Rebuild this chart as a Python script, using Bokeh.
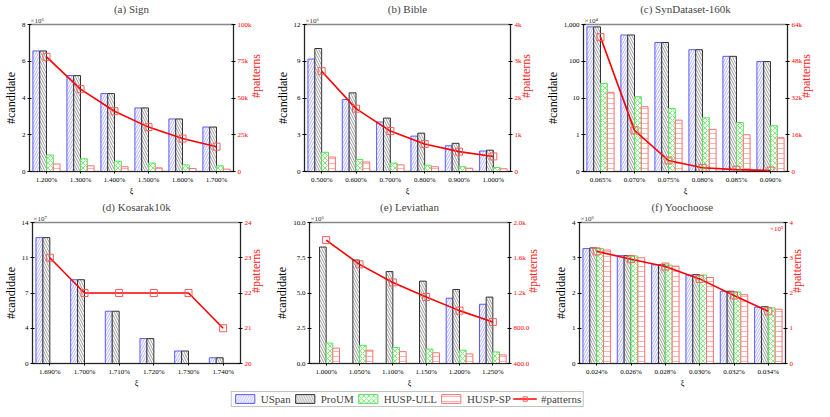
import math
from bokeh.plotting import figure
from bokeh.models import (Range1d, LinearAxis, FixedTicker, Label, Legend, LegendItem,
                          LinearScale, ColumnDataSource, Title)
from bokeh.layouts import column, row
from bokeh.transform import dodge
from bokeh.embed import file_html
from bokeh.resources import INLINE

nan = float("nan")

# ---------------- data ----------------
series_names = ["USpan", "ProUM", "HUSP-ULL", "HUSP-SP", "#patterns"]

# (a) Sign  (#candidate x10^6)
labels_a = ["1.200%", "1.300%", "1.400%", "1.500%", "1.600%", "1.700%"]
uspan_a = [6.56, 5.22, 4.24, 3.46, 2.86, 2.42]
proum_a = [6.56, 5.22, 4.24, 3.46, 2.86, 2.42]
ull_a = [0.90, 0.69, 0.56, 0.46, 0.36, 0.31]
sp_a = [0.41, 0.31, 0.26, 0.20, 0.16, 0.13]
pat_a = [78000, 56000, 41000, 30200, 22400, 16900]

# (b) Bible  (#candidate x10^6)
labels_b = ["0.500%", "0.600%", "0.700%", "0.800%", "0.900%", "1.000%"]
uspan_b = [9.18, 5.88, 4.04, 2.89, 2.10, 1.67]
proum_b = [10.04, 6.42, 4.36, 3.13, 2.30, 1.74]
ull_b = [1.57, 0.98, 0.69, 0.51, 0.39, 0.32]
sp_b = [1.18, 0.78, 0.54, 0.39, 0.27, 0.22]
pat_b = [2730, 1710, 1100, 750, 540, 410]

# (c) SynDataset-160k  (#candidate x10^4, log scale)
labels_c = ["0.065%", "0.070%", "0.075%", "0.080%", "0.085%", "0.090%"]
uspan_c = [861, 518, 324, 206, 136, 98]
proum_c = [861, 518, 324, 206, 136, 98]
ull_c = [25.0, 10.8, 5.2, 2.9, 2.16, 1.76]
sp_c = [14.3, 5.8, 2.5, 1.4, 1.0, 0.83]
pat_c = [58500, 17900, 4800, 1600, 800, 400]

# (d) Kosarak10k  (#candidate x10^7)
labels_d = ["1.690%", "1.700%", "1.710%", "1.720%", "1.730%", "1.740%"]
uspan_d = [12.5, 8.32, 5.19, 2.47, 1.24, 0.57]
proum_d = [12.5, 8.32, 5.19, 2.47, 1.24, 0.57]
ull_d = [nan, nan, nan, nan, nan, nan]
sp_d = [nan, nan, nan, nan, nan, nan]
pat_d = [23, 22, 22, 22, 22, 21]

# (e) Leviathan  (#candidate x10^6)
labels_e = ["1.000%", "1.050%", "1.100%", "1.150%", "1.200%", "1.250%"]
uspan_e = [nan, nan, nan, nan, 4.63, 4.20]
proum_e = [8.26, 7.34, 6.52, 5.84, 5.25, 4.71]
ull_e = [1.45, 1.29, 1.13, 1.02, 0.94, 0.82]
sp_e = [1.09, 0.94, 0.84, 0.76, 0.68, 0.61]
pat_e = [1800, 1525, 1320, 1155, 1000, 870]

# (f) Yoochoose  (#candidate x10^6)
labels_f = ["0.024%", "0.026%", "0.028%", "0.030%", "0.032%", "0.034%"]
uspan_f = [3.26, 3.06, 2.80, 2.51, 2.05, 1.60]
proum_f = [3.28, 3.06, 2.80, 2.52, 2.05, 1.61]
ull_f = [3.26, 3.05, 2.79, 2.51, 2.03, 1.58]
sp_f = [3.22, 3.00, 2.76, 2.44, 1.95, 1.54]
pat_f = [318000, 296000, 275000, 240000, 193000, 148000]

# ---------------- styles ----------------
FONT = "Liberation Serif"
STY = [
    dict(line_color="#5a5aff", hatch_color="#7c7cff", hatch_pattern="/"),
    dict(line_color="#333333", hatch_color="#555555", hatch_pattern="\\"),
    dict(line_color="#55e655", hatch_color="#33dd33", hatch_pattern="x"),
    dict(line_color="#ff6f6f", hatch_color="#ff7a7a", hatch_pattern="-"),
]
OFFS = [-0.3, -0.1, 0.1, 0.3]
RED = "#ff0000"
HAS_ORIENT = "axis_label_orientation" in LinearAxis.properties()


def style_axis(ax, label, color="#000000"):
    ax.axis_label = label
    ax.axis_label_text_color = color
    ax.axis_label_text_font = FONT
    ax.axis_label_text_font_size = "12px"
    ax.axis_label_text_font_style = "normal"
    ax.axis_label_standoff = 1
    ax.major_label_text_font = FONT
    ax.major_label_text_font_size = "7px"
    ax.major_label_text_color = color
    ax.major_label_standoff = 2
    ax.major_tick_in = 2
    ax.major_tick_out = 2
    ax.minor_tick_line_color = None
    ax.axis_line_color = "#222222"


def panel(title, labels, us, pu, ull, sp, pat, lrange, lticks, loverride, lexp,
          rrange, rticks, roverride, rexp=None, log=False, fw=202, fh=152):
    n = len(labels)
    idx = list(range(n))
    kw = dict(frame_width=fw, frame_height=fh, output_backend="svg", toolbar_location=None,
              x_range=Range1d(-0.5, n - 0.5), y_range=Range1d(*lrange),
              min_border_left=20, min_border_right=20, min_border_top=0, min_border_bottom=0)
    if log:
        kw["y_axis_type"] = "log"
    p = figure(**kw)
    p.extra_y_ranges = {"r": Range1d(*rrange)}
    if log:
        p.extra_y_scales = {"r": LinearScale()}
    src = ColumnDataSource(dict(x=idx, s0=us, s1=pu, s2=ull, s3=sp, pat=pat))
    bottom = lrange[0] if log else 0
    for k, col in enumerate(["s0", "s1", "s2", "s3"]):
        p.vbar(x=dodge("x", OFFS[k]), top=col, bottom=bottom, width=0.2, source=src,
               fill_color="white", line_width=1, hatch_scale=5, hatch_weight=0.6, **STY[k])
    p.line(x="x", y="pat", source=src, y_range_name="r", line_color=RED, line_width=1.6)
    p.scatter(x="x", y="pat", source=src, y_range_name="r", marker="square", size=7,
              fill_color=None, line_color="#ff5a5a", line_width=1)

    # exponent row just above the frame
    p.add_layout(Title(text=lexp, align="left", offset=1, standoff=0, text_font=FONT,
                       text_font_size="7px", text_font_style="normal",
                       text_color="#333333"), "above")

    p.title.text = title
    p.title.align = "center"
    p.title.text_font = FONT
    p.title.text_font_size = "11px"
    p.title.text_font_style = "normal"
    p.title.offset = 0
    p.title.standoff = 0

    p.grid.visible = False
    p.outline_line_color = "#888888"
    p.outline_line_width = 1.5

    xa = p.xaxis[0]
    xa.ticker = FixedTicker(ticks=idx)
    xa.major_label_overrides = {i: lab for i, lab in enumerate(labels)}
    style_axis(xa, "ξ")
    xa.axis_label_text_font_size = "8px"
    xa.axis_label_standoff = 0
    xa.major_tick_in = 0

    ya = p.yaxis[0]
    ya.ticker = FixedTicker(ticks=lticks)
    ya.major_label_overrides = loverride
    style_axis(ya, "#candidate")

    ra = LinearAxis(y_range_name="r", ticker=FixedTicker(ticks=rticks),
                    major_label_overrides=roverride)
    style_axis(ra, "#patterns", RED)
    ra.axis_label_text_color = "#ff2020"
    if HAS_ORIENT:
        ra.axis_label_orientation = math.pi / 2
    p.add_layout(ra, "right")

    if rexp:
        p.add_layout(Label(x=fw - 2, y=fh - 2, x_units="screen", y_units="screen", text=rexp,
                           text_font=FONT, text_font_size="7px", text_align="right",
                           text_baseline="top", text_color=RED))
    return p


FH1, FH2 = 147, 141

pa = panel("(a) Sign", labels_a, uspan_a, proum_a, ull_a, sp_a, pat_a,
           (0, 8), [0, 2, 4, 6, 8], {}, "×10⁶",
           (0, 100000), [0, 25000, 50000, 75000, 100000],
           {0: "0", 25000: "25k", 50000: "50k", 75000: "75k", 100000: "100k"},
           fw=204, fh=FH1)
pb = panel("(b) Bible", labels_b, uspan_b, proum_b, ull_b, sp_b, pat_b,
           (0, 12), [0, 3, 6, 9, 12], {}, "×10⁶",
           (0, 4000), [0, 1000, 2000, 3000, 4000],
           {0: "0", 1000: "1k", 2000: "2k", 3000: "3k", 4000: "4k"},
           fw=206, fh=FH1)
pc = panel("(c) SynDataset-160k", labels_c, uspan_c, proum_c, ull_c, sp_c, pat_c,
           (0.1, 1000), [0.1, 1, 10, 100, 1000],
           {0.1: "0", 1: "1", 10: "10", 100: "100", 1000: "1,000"}, "×10⁴",
           (0, 64000), [0, 16000, 32000, 48000, 64000],
           {0: "0", 16000: "16k", 32000: "32k", 48000: "48k", 64000: "64k"},
           log=True, fw=204, fh=FH1)
pd_ = panel("(d) Kosarak10k", labels_d, uspan_d, proum_d, ull_d, sp_d, pat_d,
            (0, 14), [0, 3.5, 7, 10.5, 14], {3.5: "4", 10.5: "11"}, "×10⁷",
            (20, 24), [20, 21, 22, 23, 24], {},
            fw=208, fh=FH2)
pe = panel("(e) Leviathan", labels_e, uspan_e, proum_e, ull_e, sp_e, pat_e,
           (0, 10), [0, 2.5, 5, 7.5, 10],
           {0: "0.0", 2.5: "2.5", 5: "5.0", 7.5: "7.5", 10: "10.0"}, "×10⁶",
           (400, 2000), [400, 800, 1200, 1600, 2000],
           {400: "400.0", 800: "800.0", 1200: "1.2k", 1600: "1.6k", 2000: "2.0k"},
           fw=200, fh=FH2)
pf = panel("(f) Yoochoose", labels_f, uspan_f, proum_f, ull_f, sp_f, pat_f,
           (0, 4), [0, 1, 2, 3, 4], {}, "×10⁶",
           (0, 400000), [0, 100000, 200000, 300000, 400000],
           {0: "0", 100000: "1", 200000: "2", 300000: "3", 400000: "4"}, rexp="×10⁵",
           fw=206, fh=FH2)

# ---------------- legend strip ----------------
lg = figure(width=814, height=17, output_backend="svg", toolbar_location=None,
            x_range=Range1d(0, 1), y_range=Range1d(0, 1), min_border=0)
lg.axis.visible = False
lg.grid.visible = False
lg.outline_line_color = None
items = []
for k in range(4):
    r = lg.vbar(x=[5], top=[5], bottom=[4], width=0.1, fill_color="white", line_width=1,
                hatch_scale=5, hatch_weight=0.6, **STY[k])
    items.append(LegendItem(label=series_names[k], renderers=[r]))
rl = lg.line(x=[5, 6], y=[5, 5], line_color=RED, line_width=1.6)
rs = lg.scatter(x=[5], y=[5], marker="square", size=7, fill_color=None, line_color="#ff5a5a")
items.append(LegendItem(label=series_names[4], renderers=[rl, rs]))
leg = Legend(items=items, orientation="horizontal", location="center",
             border_line_color="#888888", border_line_width=1.2,
             label_text_font=FONT, label_text_font_size="11px",
             glyph_width=24, glyph_height=11, label_height=11,
             padding=1, spacing=2, margin=0, label_standoff=4)
lg.add_layout(leg, "center")

layout = column(row(pa, pb, pc), row(pd_, pe, pf), lg)

open("out.html", "w").write(file_html(layout, INLINE))
